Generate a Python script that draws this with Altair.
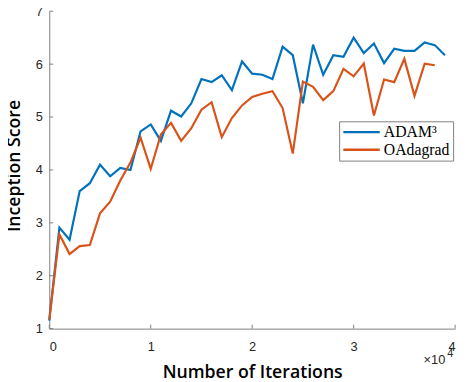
import altair as alt
import pandas as pd

iters_adam = [i * 1000 for i in range(40)]
adam = [1.15, 2.91, 2.68, 3.60, 3.75, 4.10, 3.88, 4.04, 4.00, 4.73,
        4.86, 4.55, 5.12, 5.01, 5.26, 5.72, 5.66, 5.79, 5.51, 6.05,
        5.82, 5.80, 5.72, 6.33, 6.17, 5.26, 6.37, 5.80, 6.17, 6.14,
        6.50, 6.21, 6.39, 6.02, 6.29, 6.25, 6.25, 6.41, 6.36, 6.17]
iters_oada = [i * 1000 for i in range(39)]
oada = [1.17, 2.78, 2.41, 2.56, 2.58, 3.18, 3.40, 3.80, 4.14, 4.61,
        4.02, 4.67, 4.89, 4.55, 4.79, 5.14, 5.28, 4.62, 4.98, 5.22,
        5.38, 5.44, 5.49, 5.17, 4.31, 5.67, 5.57, 5.32, 5.49, 5.91,
        5.77, 6.01, 5.03, 5.71, 5.66, 6.10, 5.40, 6.01, 5.98]
series_names = ["ADAM³", "OAdagrad"]
series_colors = ["#0072BD", "#D95319"]
x_ticks = [0, 10000, 20000, 30000, 40000]
y_ticks = [1, 2, 3, 4, 5, 6, 7]

df = pd.concat([
    pd.DataFrame({"iter": iters_adam, "score": adam, "series": series_names[0]}),
    pd.DataFrame({"iter": iters_oada, "score": oada, "series": series_names[1]}),
])

W, H = 413, 323
xs = alt.Scale(domain=[0, 40000], nice=False)
ys = alt.Scale(domain=[1, 7], nice=False)

lines = alt.Chart(df).mark_line(strokeWidth=2.2).encode(
    x=alt.X("iter:Q", scale=xs,
            axis=alt.Axis(values=x_ticks, labelExpr="datum.value / 10000",
                          title="Number of Iterations", grid=False,
                          tickSize=0, labelPadding=12, titlePadding=11,
                          domainColor="#808080", labelColor="#262626",
                          labelFont="Liberation Sans", labelFontSize=13,
                          titleFont="Open Sans", titleFontSize=18,
                          titleFontWeight=600, titleColor="#000000")),
    y=alt.Y("score:Q", scale=ys,
            axis=alt.Axis(values=y_ticks, format="d", title="Inception Score",
                          grid=False, tickSize=0, labelPadding=7,
                          titleX=-26, titleY=157, titleAngle=270,
                          titleBaseline="bottom", titleAlign="center",
                          domainColor="#808080", labelColor="#262626",
                          labelFont="Liberation Sans", labelFontSize=13,
                          titleFont="Open Sans", titleFontSize=18,
                          titleFontWeight=600, titleColor="#000000")),
    color=alt.Color("series:N",
                    scale=alt.Scale(domain=series_names, range=series_colors),
                    legend=alt.Legend(title=None, orient="none",
                                      legendX=295, legendY=112,
                                      symbolType="M-1,0L4.5,0", symbolSize=182,
                                      symbolStrokeWidth=2.5,
                                      labelOffset=26.5,
                                      labelFont="Liberation Serif",
                                      labelFontSize=16, labelColor="#000000",
                                      strokeColor="#808080", fillColor="white",
                                      padding=3, rowPadding=2,
                                      cornerRadius=0)),
)

xt = alt.Chart(pd.DataFrame({"t": x_ticks})).mark_rule(color="#808080").encode(
    x=alt.X("t:Q", scale=xs), y=alt.value(H), y2=alt.value(H - 4))
yt = alt.Chart(pd.DataFrame({"t": y_ticks})).mark_rule(color="#808080").encode(
    y=alt.Y("t:Q", scale=ys), x=alt.value(0), x2=alt.value(4))

mult = alt.Chart(pd.DataFrame({"s": ["×10"]})).mark_text(
    font="Liberation Sans", fontSize=13, color="#262626", align="right",
    baseline="middle").encode(x=alt.value(W - 10), y=alt.value(H + 32), text="s:N")
sup = alt.Chart(pd.DataFrame({"s": ["4"]})).mark_text(
    font="Liberation Sans", fontSize=11, color="#262626", align="left",
    baseline="middle").encode(x=alt.value(W - 8), y=alt.value(H + 26), text="s:N")

chart = alt.layer(lines, xt, yt, mult, sup).properties(
    width=W, height=H,
    autosize=alt.AutoSizeParams(type="none"),
    padding={"left": 42, "top": 0, "right": 5, "bottom": 51},
).configure_view(stroke=None).configure_axis(domainWidth=1)

chart.save("out.html", embed_options={"renderer": "svg", "actions": False})
